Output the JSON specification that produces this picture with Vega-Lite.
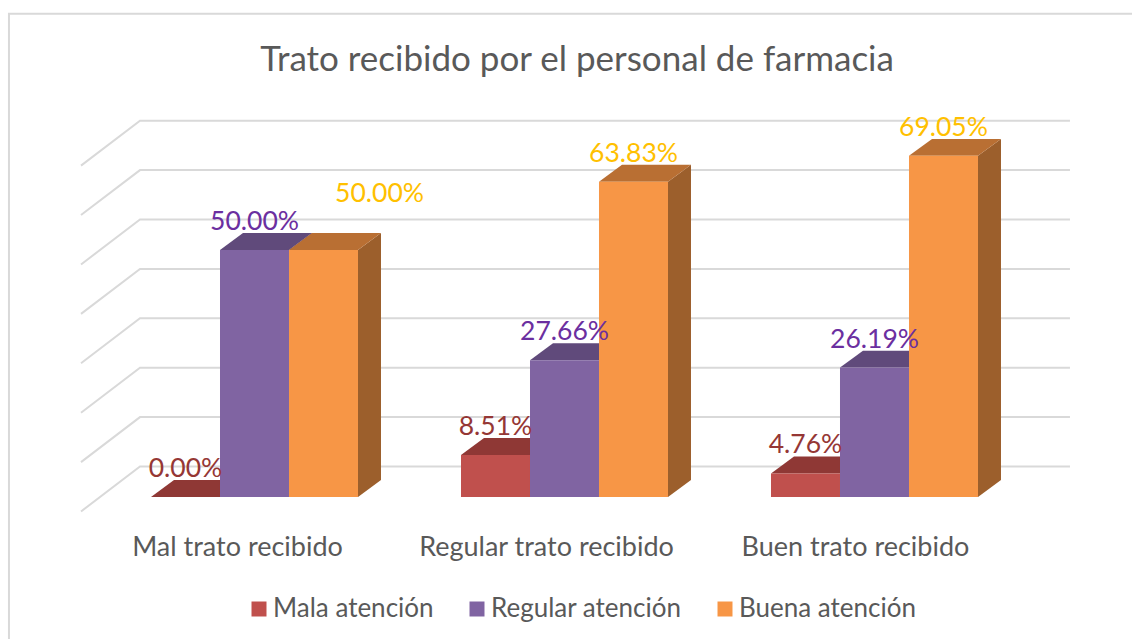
{
"$schema":"https://vega.github.io/schema/vega-lite/v6.json",
"width":1132,"height":639,
"autosize":{"type":"fit","contains":"padding"},
"padding":0,
"background":"#ffffff",
"view":{"stroke":null},
"title":{"text":"Trato recibido por el personal de farmacia","anchor":"middle","dx":11,"offset":-78,"fontSize":35,"font":"Lato","fontWeight":400,"color":"#595959","frame":"group"},
"config":{"text":{"font":"Lato","fontWeight":400}},
"datasets":{
"bars":[
{"category":"Mal trato recibido","series":"Mala atención","value":0.0},
{"category":"Mal trato recibido","series":"Regular atención","value":0.5},
{"category":"Mal trato recibido","series":"Buena atención","value":0.5},
{"category":"Regular trato recibido","series":"Mala atención","value":0.0851},
{"category":"Regular trato recibido","series":"Regular atención","value":0.2766},
{"category":"Regular trato recibido","series":"Buena atención","value":0.6383},
{"category":"Buen trato recibido","series":"Mala atención","value":0.0476},
{"category":"Buen trato recibido","series":"Regular atención","value":0.2619},
{"category":"Buen trato recibido","series":"Buena atención","value":0.6905}
],
"grid":[{"level":0},{"level":10},{"level":20},{"level":30},{"level":40},{"level":50},{"level":60},{"level":70}],
"cats":[{"category":"Mal trato recibido"},{"category":"Regular trato recibido"},{"category":"Buen trato recibido"}]
},
"layer":[
{"data":{"values":[{"frame":"border"}]},
"mark":{"type":"rect","fill":null,"stroke":"#D9D9D9","strokeWidth":2,"clip":true},
"encoding":{
"x":{"datum":0.13,"type":"quantitative","scale":{"domain":[0,16.406],"nice":false,"zero":false},"axis":null},
"x2":{"datum":17},
"y":{"datum":97.8,"type":"quantitative","scale":{"domain":[-28.74,100.6],"nice":false,"zero":false},"axis":null},
"y2":{"datum":-40}
}},
{"data":{"name":"grid"},
"transform":[
{"calculate":"[0,1,2]","as":"i"},{"flatten":["i"]},
{"calculate":"[1.174,2.029,15.507][datum.i]","as":"gx"},
{"calculate":"datum.level+(datum.i==0?-2.93:6.17)","as":"gy"}],
"mark":{"type":"line","stroke":"#D9D9D9","strokeWidth":2},
"encoding":{
"x":{"field":"gx","type":"quantitative","scale":{"domain":[0,16.406],"nice":false,"zero":false},"axis":null},
"y":{"field":"gy","type":"quantitative","scale":{"domain":[-28.74,100.6],"nice":false,"zero":false},"axis":null},
"detail":{"field":"level"},
"order":{"field":"i"}
}},
{"data":{"name":"bars"},
"transform":[
{"calculate":"2.1884+4.4928*indexof(['Mal trato recibido','Regular trato recibido','Buen trato recibido'],datum.category)+indexof(['Mala atención','Regular atención','Buena atención'],datum.series)","as":"x0"},
{"calculate":"[0,1]","as":"t"},{"flatten":["t"]},
{"calculate":"datum.x0+1+datum.t*0.3333","as":"sx"},
{"calculate":"datum.value*100+datum.t*3.44","as":"sy"},
{"calculate":"datum.t*3.44","as":"sy2"}],
"mark":{"type":"area","opacity":1},
"encoding":{
"x":{"field":"sx","type":"quantitative","scale":{"domain":[0,16.406],"nice":false,"zero":false},"axis":null},
"y":{"field":"sy","type":"quantitative","scale":{"domain":[-28.74,100.6],"nice":false,"zero":false},"axis":null},
"y2":{"field":"sy2"},
"detail":{"field":"category"},
"color":{"field":"series","type":"nominal","legend":null,"scale":{"domain":["Mala atención","Regular atención","Buena atención"],"range":["#8F3835","#604A7B","#9C5F2C"]}}
}},
{"data":{"name":"bars"},
"transform":[
{"calculate":"2.1884+4.4928*indexof(['Mal trato recibido','Regular trato recibido','Buen trato recibido'],datum.category)+indexof(['Mala atención','Regular atención','Buena atención'],datum.series)","as":"x0"},
{"calculate":"[0,1,2,3]","as":"k"},{"flatten":["k"]},
{"calculate":"datum.x0+[0,0.3333,1,1.3333][datum.k]","as":"tx"},
{"calculate":"datum.value*100+[0,3.44,3.44,3.44][datum.k]","as":"ty2"},
{"calculate":"datum.k==3?datum.value*100+3.44:datum.value*100","as":"ty"}],
"mark":{"type":"area","opacity":1},
"encoding":{
"x":{"field":"tx","type":"quantitative","scale":{"domain":[0,16.406],"nice":false,"zero":false},"axis":null},
"y":{"field":"ty","type":"quantitative","scale":{"domain":[-28.74,100.6],"nice":false,"zero":false},"axis":null},
"y2":{"field":"ty2"},
"detail":{"field":"category"},
"color":{"field":"series","type":"nominal","legend":null,"scale":{"domain":["Mala atención","Regular atención","Buena atención"],"range":["#8F3835","#604A7B","#B96F33"]}}
}},
{"data":{"name":"bars"},
"transform":[
{"calculate":"2.1884+4.4928*indexof(['Mal trato recibido','Regular trato recibido','Buen trato recibido'],datum.category)+indexof(['Mala atención','Regular atención','Buena atención'],datum.series)","as":"x0"},
{"calculate":"datum.x0+1","as":"x1"},
{"calculate":"datum.value*100","as":"pct"},
{"calculate":"0","as":"base"}],
"mark":{"type":"rect"},
"encoding":{
"x":{"field":"x0","type":"quantitative","scale":{"domain":[0,16.406],"nice":false,"zero":false},"axis":null},
"x2":{"field":"x1"},
"y":{"field":"pct","type":"quantitative","scale":{"domain":[-28.74,100.6],"nice":false,"zero":false},"axis":null},
"y2":{"field":"base"},
"color":{"field":"series","type":"nominal","title":null,"scale":{"domain":["Mala atención","Regular atención","Buena atención"],"range":["#C0504D","#8064A2","#F79646"]},
"legend":{"orient":"none","legendX":246,"legendY":596,"direction":"horizontal","columns":3,"symbolType":"square","symbolSize":225,"symbolStrokeWidth":0,"labelFont":"Lato","labelFontWeight":400,"labelFontSize":26,"labelColor":"#595959","labelOffset":1,"columnPadding":30,"labelLimit":300,"symbolOpacity":1}}
}},
{"data":{"name":"bars"},
"transform":[
{"filter":"!(datum.category=='Mal trato recibido'&&datum.series=='Buena atención')"},
{"calculate":"2.6884+4.4928*indexof(['Mal trato recibido','Regular trato recibido','Buen trato recibido'],datum.category)+indexof(['Mala atención','Regular atención','Buena atención'],datum.series)","as":"lx"},
{"calculate":"datum.value*100","as":"pct"}],
"mark":{"type":"text","fontSize":26.5,"align":"center","baseline":"middle","yOffset":-28},
"encoding":{
"x":{"field":"lx","type":"quantitative","scale":{"domain":[0,16.406],"nice":false,"zero":false},"axis":null},
"y":{"field":"pct","type":"quantitative","scale":{"domain":[-28.74,100.6],"nice":false,"zero":false},"axis":null},
"text":{"field":"value","format":".2%"},
"color":{"field":"series","type":"nominal","legend":null,"scale":{"domain":["Mala atención","Regular atención","Buena atención"],"range":["#953735","#6B2FA0","#FFC000"]}}
}},
{"data":{"name":"bars"},
"transform":[
{"filter":"datum.category=='Mal trato recibido'&&datum.series=='Buena atención'"},
{"calculate":"4.6884","as":"lx"},
{"calculate":"datum.value*100","as":"pct"}],
"mark":{"type":"text","fontSize":26.5,"align":"center","baseline":"middle","yOffset":-56,"xOffset":56,"color":"#FFC000"},
"encoding":{
"x":{"field":"lx","type":"quantitative","scale":{"domain":[0,16.406],"nice":false,"zero":false},"axis":null},
"y":{"field":"pct","type":"quantitative","scale":{"domain":[-28.74,100.6],"nice":false,"zero":false},"axis":null},
"text":{"field":"value","format":".2%"}
}},
{"data":{"name":"cats"},
"transform":[
{"calculate":"(237.5+309*indexof(['Mal trato recibido','Regular trato recibido','Buen trato recibido'],datum.category))/69","as":"cx"},
{"calculate":"-10.3","as":"cy"}],
"mark":{"type":"text","fontSize":27,"align":"center","baseline":"middle","color":"#595959"},
"encoding":{
"x":{"field":"cx","type":"quantitative","scale":{"domain":[0,16.406],"nice":false,"zero":false},"axis":null},
"y":{"field":"cy","type":"quantitative","scale":{"domain":[-28.74,100.6],"nice":false,"zero":false},"axis":null},
"text":{"field":"category"}
}}
],
"resolve":{"scale":{"color":"independent"},"legend":{"color":"independent"}}
}
